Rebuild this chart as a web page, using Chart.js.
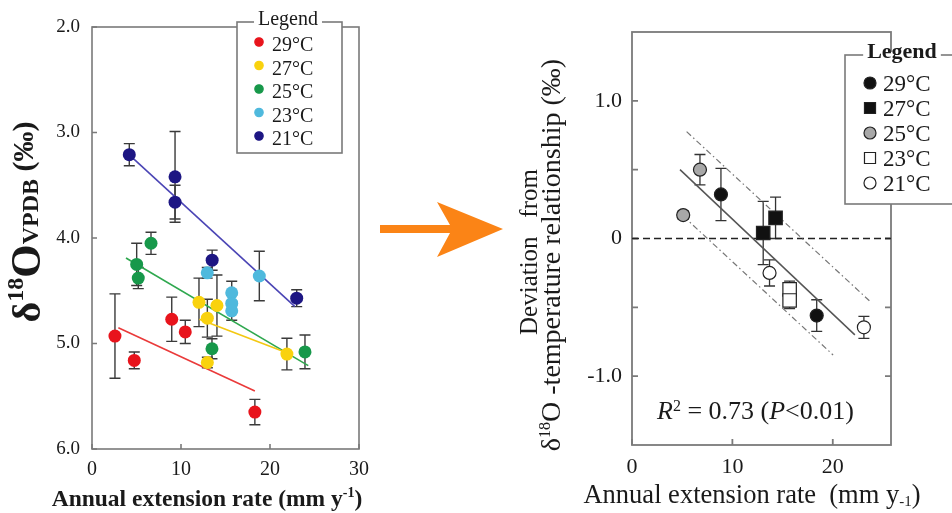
<!DOCTYPE html>
<html><head><meta charset="utf-8">
<script src="https://cdn.jsdelivr.net/npm/chart.js@4"></script>
<style>
html,body{margin:0;padding:0;background:#fff;width:952px;height:513px;overflow:hidden}
#c1{position:absolute;left:0;top:0}
#c2{position:absolute;left:500px;top:0}
#arrow{position:absolute;left:0;top:0}
</style></head><body>
<canvas id="c1" width="380" height="513"></canvas>
<canvas id="c2" width="452" height="513"></canvas>
<svg id="arrow" width="520" height="300"><polygon points="380,225 450,225 437,202 503,229 437,257 450,233 380,233" fill="#fb8416"/></svg>
<script>
// ---------- Left panel data (δ18O vs extension rate) ----------
const tempLabels = ['29°C','27°C','25°C','23°C','21°C'];
const x29 = [2.58, 4.75, 8.96, 10.48, 18.3];
const y29 = [4.93, 5.16, 4.77, 4.89, 5.65];
const e29 = [0.40, 0.08, 0.21, 0.11, 0.12];
const x27 = [12.02, 14.04, 12.96, 12.96, 21.9];
const y27 = [4.61, 4.64, 4.76, 5.18, 5.10];
const e27 = [0.23, 0.29, 0.18, 0.05, 0.15];
const x25 = [6.63, 5.02, 5.2, 13.48, 23.93];
const y25 = [4.05, 4.25, 4.38, 5.05, 5.08];
const e25 = [0.105, 0.2, 0.1, 0.095, 0.16];
const x23 = [12.95, 18.8, 15.7, 15.7, 15.7];
const y23 = [4.33, 4.36, 4.52, 4.62, 4.69];
const e23 = [0.05, 0.235, 0.11, 0.08, 0.09];
const x21 = [4.19, 9.33, 9.33, 13.5, 23.0];
const y21 = [3.21, 3.42, 3.66, 4.21, 4.57];
const e21 = [0.105, 0.43, 0.16, 0.095, 0.08];
// regression lines (end points)
const fit29X = [2.96, 18.3], fit29Y = [4.85, 5.45];
const fit27X = [12.06, 22.25], fit27Y = [4.77, 5.10];
const fit25X = [3.82, 24.3], fit25Y = [4.19, 5.21];
const fit21X = [4.16, 22.8], fit21Y = [3.21, 4.65];
const leftXTicks = [0, 10, 20, 30];
const leftYTicks = [2, 3, 4, 5, 6];

// ---------- Right panel data (deviation) ----------
const devX29 = [8.86, 18.4], devY29 = [0.32, -0.56], devE29 = [0.19, 0.115];
const devX27 = [13.07, 14.3], devY27 = [0.04, 0.15], devE27 = [0.23, 0.15];
const devX25 = [6.77, 5.1], devY25 = [0.50, 0.17], devE25 = [0.11, 0.03];
const devX23 = [15.7, 15.7], devY23 = [-0.37, -0.45], devE23 = [0.06, 0.06];
const devX21 = [13.7, 23.1], devY21 = [-0.25, -0.645], devE21 = [0.095, 0.08];
const regX = [4.78, 22.2], regY = [0.50, -0.70];
const upX = [5.44, 23.85], upY = [0.776, -0.466];
const loX = [5.1, 20.03], loY = [0.163, -0.846];
const zeroX = [0, 25.8], zeroY = [0, 0];
const rightXTicks = [0, 10, 20];
const rightYTicks = [-1, -0.5, 0, 0.5, 1];
const rightYLabeled = [-1, 0, 1];

const FF = '"Liberation Serif", "Times New Roman", serif';
const pts = (xs, ys) => xs.map((v, i) => ({x: v, y: ys[i]}));

// ---------- plugins ----------
const frameTicks = {
  id: 'frameTicks',
  beforeDatasetsDraw(chart, args, o) {
    const {ctx, chartArea: a, scales} = chart;
    ctx.save();
    ctx.strokeStyle = o.color; ctx.lineWidth = o.width;
    ctx.strokeRect(a.left, a.top, a.right - a.left, a.bottom - a.top);
    ctx.beginPath();
    const L = o.len;
    scales.y.ticks.forEach(t => {
      const p = scales.y.getPixelForValue(t.value);
      if (o.left) { ctx.moveTo(a.left, p); ctx.lineTo(a.left + L, p); }
      if (o.right) { ctx.moveTo(a.right, p); ctx.lineTo(a.right - L, p); }
    });
    scales.x.ticks.forEach(t => {
      const p = scales.x.getPixelForValue(t.value);
      ctx.moveTo(p, a.bottom); ctx.lineTo(p, a.bottom - L);
    });
    ctx.stroke();
    ctx.restore();
  }
};
const errorBars = {
  id: 'errorBars',
  beforeDatasetsDraw(chart, args, o) {
    const {ctx, scales: {x, y}} = chart;
    ctx.save(); ctx.strokeStyle = o.color; ctx.lineWidth = o.width;
    chart.data.datasets.forEach(ds => {
      if (!ds.errors) return;
      ds.data.forEach((pt, j) => {
        const e = ds.errors[j]; if (!e) return;
        const px = x.getPixelForValue(pt.x);
        const p1 = y.getPixelForValue(pt.y - e), p2 = y.getPixelForValue(pt.y + e);
        ctx.beginPath();
        ctx.moveTo(px, p1); ctx.lineTo(px, p2);
        ctx.moveTo(px - o.cap, p1); ctx.lineTo(px + o.cap, p1);
        ctx.moveTo(px - o.cap, p2); ctx.lineTo(px + o.cap, p2);
        ctx.stroke();
      });
    });
    ctx.restore();
  }
};
function richText(ctx, parts, x, y, rotate, align) {
  ctx.save(); ctx.translate(x, y); if (rotate) ctx.rotate(-Math.PI / 2);
  let w = 0;
  parts.forEach(p => { ctx.font = p[1]; w += ctx.measureText(p[0]).width; });
  let cx = align === 'center' ? -w / 2 : 0;
  ctx.textBaseline = 'alphabetic'; ctx.textAlign = 'left'; ctx.fillStyle = '#1a1a1a';
  parts.forEach(p => { ctx.font = p[1]; ctx.fillText(p[0], cx, p[2] || 0); cx += ctx.measureText(p[0]).width; });
  ctx.restore();
}
function marker(ctx, style, x, y, r, fill, stroke) {
  ctx.save(); ctx.fillStyle = fill; ctx.strokeStyle = stroke; ctx.lineWidth = 1.2;
  ctx.beginPath();
  if (style === 'rect') { const s = r * Math.SQRT1_2; ctx.rect(x - s, y - s, 2 * s, 2 * s); }
  else ctx.arc(x, y, r, 0, Math.PI * 2);
  ctx.fill(); ctx.stroke(); ctx.restore();
}
const boxLegend = {
  id: 'boxLegend',
  afterDraw(chart, args, o) {
    const ctx = chart.ctx;
    ctx.save();
    ctx.fillStyle = '#fff'; ctx.fillRect(o.x1, o.y1, o.x2 - o.x1, o.y2 - o.y1);
    ctx.strokeStyle = o.border; ctx.lineWidth = o.lw;
    ctx.strokeRect(o.x1, o.y1, o.x2 - o.x1, o.y2 - o.y1);
    ctx.font = o.titleFont;
    const tw = ctx.measureText('Legend').width;
    ctx.fillStyle = '#fff'; ctx.fillRect(o.tx - tw / 2 - 4, o.y1 - 3, tw + 8, 6);
    ctx.fillStyle = '#1a1a1a'; ctx.textAlign = 'center'; ctx.textBaseline = 'alphabetic';
    ctx.fillText('Legend', o.tx, o.ty);
    const items = chart.data.datasets.filter(d => d.legend);
    items.forEach((d, i) => {
      const y = o.iy + i * o.dy;
      marker(ctx, d.pointStyle || 'circle', o.mx, y, d.pointStyle === 'rect' ? o.mr * 1.3 : o.mr, d.backgroundColor, d.legendBorder || d.backgroundColor);
      ctx.fillStyle = '#1a1a1a'; ctx.font = o.font; ctx.textAlign = 'left';
      ctx.fillText(d.label, o.lx, y + o.tdy);
    });
    ctx.restore();
  }
};
const titles1 = {
  id: 'titles1',
  afterDraw(chart) {
    const ctx = chart.ctx;
    richText(ctx, [['δ', 'bold 40px ' + FF, 0], ['18', 'bold 24px ' + FF, -17], ['O', 'bold 43px ' + FF, 0], ['VPDB', 'bold 24px ' + FF, -2], [' (‰)', 'bold 30px ' + FF, -7]], 40, 222, true, 'center');
    richText(ctx, [['Annual extension rate (mm y', 'bold 23.5px ' + FF, 0], ['-1', 'bold 14px ' + FF, -9], [')', 'bold 23.5px ' + FF, 0]], 207, 506, false, 'center');
  }
};
const titles2 = {
  id: 'titles2',
  afterDraw(chart) {
    const ctx = chart.ctx;
    richText(ctx, [['Deviation   from', '25px ' + FF, 0]], 37, 252, true, 'center');
    richText(ctx, [['δ', '28px ' + FF, 0], ['18', '16px ' + FF, -10], ['O -temperature relationship (‰)', '28px ' + FF, 0]], 60, 255, true, 'center');
    richText(ctx, [['Annual extension rate  (mm y', '26.5px ' + FF, 0], ['-1', '15px ' + FF, 3], [')', '26.5px ' + FF, 0]], 252, 503, false, 'center');
    const xs = chart.scales.x, ys = chart.scales.y;
    richText(ctx, [['R', 'italic 26px ' + FF, 0], ['2', '16px ' + FF, -8], [' = 0.73 (', '26px ' + FF, 0], ['P', 'italic 26px ' + FF, 0], ['<0.01)', '26px ' + FF, 0]],
      xs.getPixelForValue(12.3), ys.getPixelForValue(-1.31), false, 'center');
  }
};

const tickFont = (s) => ({family: FF, size: s});
function axisX(min, max, ticks, h, size, pad) {
  return {type: 'linear', min, max, afterFit: s => { s.height = h; },
    afterBuildTicks: s => { s.ticks = ticks.map(v => ({value: v})); },
    grid: {display: true, drawOnChartArea: false, drawTicks: false}, border: {display: false},
    ticks: {font: tickFont(size), color: '#1a1a1a', padding: pad, maxRotation: 0, callback: v => String(v)}};
}

// ---------- Left chart ----------
const colors = ['#e8141c', '#f9d20e', '#17984a', '#4fb9dd', '#1d1683'];
const lineColors = {r: '#ea3a3a', y: '#f3c812', g: '#2fa84f', b: '#4b45b5'};
const scatterDS = (label, xs, ys, es, c) => ({label, legend: true, data: pts(xs, ys), errors: es, backgroundColor: c, borderColor: c, pointRadius: 6.5, pointBorderWidth: 0, showLine: false});
const fitDS = (xs, ys, c) => ({data: pts(xs, ys), showLine: true, borderColor: c, borderWidth: 1.6, pointRadius: 0, fill: false});

new Chart(document.getElementById('c1'), {
  type: 'scatter',
  data: {datasets: [
    scatterDS(tempLabels[0], x29, y29, e29, colors[0]),
    scatterDS(tempLabels[1], x27, y27, e27, colors[1]),
    scatterDS(tempLabels[2], x25, y25, e25, colors[2]),
    scatterDS(tempLabels[3], x23, y23, e23, colors[3]),
    scatterDS(tempLabels[4], x21, y21, e21, colors[4]),
    fitDS(fit29X, fit29Y, lineColors.r),
    fitDS(fit27X, fit27Y, lineColors.y),
    fitDS(fit25X, fit25Y, lineColors.g),
    fitDS(fit21X, fit21Y, lineColors.b)
  ]},
  options: {
    responsive: false, animation: false, events: [],
    layout: {padding: {left: 0, right: 21, top: 27, bottom: 0}},
    scales: {
      x: axisX(0, 30, leftXTicks, 64, 20, 9),
      y: {type: 'linear', min: 2, max: 6, reverse: true, afterFit: s => { s.width = 92; },
        afterBuildTicks: s => { s.ticks = leftYTicks.map(v => ({value: v})); },
        grid: {display: true, drawOnChartArea: false, drawTicks: false}, border: {display: false},
        ticks: {font: tickFont(19), color: '#1a1a1a', padding: 12, callback: v => v.toFixed(1)}}
    },
    plugins: {
      legend: {display: false}, tooltip: {enabled: false},
      frameTicks: {color: '#7a7a7a', width: 1.6, len: 5, left: true, right: false},
      errorBars: {color: '#3a3a3a', width: 1.4, cap: 5.5},
      boxLegend: {x1: 237, y1: 22, x2: 342, y2: 153, border: '#7a7a7a', lw: 1.6, titleFont: '20px ' + FF, tx: 288, ty: 25,
        mx: 259, mr: 4.2, lx: 272, iy: 42, dy: 23.5, font: '20px ' + FF, tdy: 9}
    }
  },
  plugins: [frameTicks, errorBars, boxLegend, titles1]
});

// ---------- Right chart ----------
const devDS = (label, xs, ys, es, style, fill, r) => ({label, legend: true, data: pts(xs, ys), errors: es, pointStyle: style, backgroundColor: fill, borderColor: '#222', legendBorder: '#222', pointRadius: r, pointBorderWidth: 1.2, showLine: false});
const refLine = (xs, ys, c, w, dash) => ({data: pts(xs, ys), showLine: true, borderColor: c, borderWidth: w, borderDash: dash, pointRadius: 0, fill: false});

new Chart(document.getElementById('c2'), {
  type: 'scatter',
  data: {datasets: [
    devDS(tempLabels[0], devX29, devY29, devE29, 'circle', '#111', 6.5),
    devDS(tempLabels[1], devX27, devY27, devE27, 'rect', '#111', 9.5),
    devDS(tempLabels[2], devX25, devY25, devE25, 'circle', '#a8a8a8', 6.5),
    devDS(tempLabels[3], devX23, devY23, devE23, 'rect', '#fff', 9.5),
    devDS(tempLabels[4], devX21, devY21, devE21, 'circle', '#fff', 6.5),
    refLine(regX, regY, '#555', 1.5, []),
    refLine(upX, upY, '#777', 1.2, [6, 3, 1.5, 3]),
    refLine(loX, loY, '#777', 1.2, [6, 3, 1.5, 3]),
    refLine(zeroX, zeroY, '#222', 1.3, [7, 4])
  ]},
  options: {
    responsive: false, animation: false, events: [],
    layout: {padding: {left: 0, right: 61, top: 32, bottom: 0}},
    scales: {
      x: axisX(0, 25.8, rightXTicks, 68, 22, 9),
      y: {type: 'linear', min: -1.5, max: 1.5, afterFit: s => { s.width = 132; },
        afterBuildTicks: s => { s.ticks = rightYTicks.map(v => ({value: v})); },
        grid: {display: true, drawOnChartArea: false, drawTicks: false}, border: {display: false},
        ticks: {font: tickFont(22), color: '#1a1a1a', padding: 10,
          callback: v => rightYLabeled.includes(v) ? (v === 0 ? '0' : v.toFixed(1)) : ''}}
    },
    plugins: {
      legend: {display: false}, tooltip: {enabled: false},
      frameTicks: {color: '#7a7a7a', width: 1.8, len: 6, left: true, right: true},
      errorBars: {color: '#333', width: 1.3, cap: 5.5},
      boxLegend: {x1: 345, y1: 55, x2: 470, y2: 204, border: '#7a7a7a', lw: 1.6, titleFont: 'bold 22px ' + FF, tx: 402, ty: 58,
        mx: 370, mr: 6, lx: 383, iy: 83, dy: 25, font: '23px ' + FF, tdy: 8}
    }
  },
  plugins: [frameTicks, errorBars, boxLegend, titles2]
});
</script>
</body></html>
